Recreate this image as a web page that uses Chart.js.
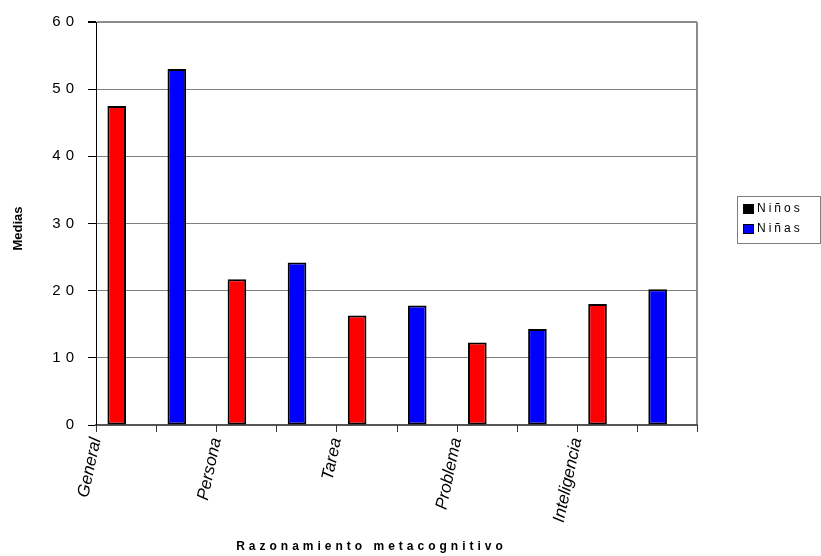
<!DOCTYPE html>
<html>
<head>
<meta charset="utf-8">
<script src="https://cdn.jsdelivr.net/npm/chart.js@4/dist/chart.umd.min.js"></script>
<style>
  html, body { margin: 0; padding: 0; background: #ffffff; }
  #wrap { width: 821px; height: 556px; }
</style>
</head>
<body>
<div id="wrap"><canvas id="c" width="821" height="556"></canvas></div>
<script>
// Mean metacognitive-reasoning scores by dimension, boys vs girls
const categories = ['General', 'Persona', 'Tarea', 'Problema', 'Inteligencia'];
const seriesNames = ['Niños', 'Niñas'];
const ninos = [47.5, 21.7, 16.3, 12.3, 18.0];
const ninas = [53.0, 24.2, 17.8, 14.3, 20.2];
const yTicks = [0, 10, 20, 30, 40, 50, 60];

// Each dimension takes two slots on the axis: one for boys, one for girls
const slotLabels = categories.flatMap(c => [c, '']);
const ninosSlots = categories.flatMap((c, i) => [ninos[i], null]);
const ninasSlots = categories.flatMap((c, i) => [null, ninas[i]]);
const spareSlots = slotLabels.map(() => null);

const FONT = "'Liberation Sans', Arial, sans-serif";

// Letter-spaced text helper (canvas letterSpacing)
function spaced(ctx, sp, fn) {
  const prev = ctx.letterSpacing;
  ctx.letterSpacing = sp;
  fn();
  ctx.letterSpacing = prev === undefined ? '0px' : prev;
}

class SpacedLinearScale extends Chart.LinearScale {
  static id = 'spacedLinear';
  static defaults = Chart.LinearScale.defaults;
  drawLabels(area) { spaced(this.ctx, '5px', () => super.drawLabels(area)); }
  drawTitle() {
    this.ctx.save();
    this.ctx.translate(0, 5);
    spaced(this.ctx, '0px', () => super.drawTitle());
    this.ctx.restore();
  }
}

class SpacedCategoryScale extends Chart.CategoryScale {
  static id = 'spacedCategory';
  static defaults = Chart.CategoryScale.defaults;
  drawLabels(area) { spaced(this.ctx, '0px', () => super.drawLabels(area)); }
  drawTitle() {
    this.ctx.save();
    this.ctx.translate(-25, 0);
    spaced(this.ctx, '4px', () => super.drawTitle());
    this.ctx.restore();
  }
}
Chart.register(SpacedLinearScale, SpacedCategoryScale);

// Tick marks on every slot boundary of the category axis
const slotTicks = {
  id: 'slotTicks',
  afterDraw(chart, args, opts) {
    const xs = chart.scales.x;
    const ctx = chart.ctx;
    const y0 = chart.chartArea.bottom;
    ctx.save();
    ctx.strokeStyle = opts.color;
    ctx.lineWidth = 1;
    ctx.beginPath();
    for (let i = 0; i <= slotLabels.length; i++) {
      const px = Math.round(xs.getPixelForValue(i - 0.5)) + 0.5;
      ctx.moveTo(px, y0);
      ctx.lineTo(px, y0 + opts.length);
    }
    ctx.stroke();
    ctx.restore();
  }
};

// Boxed legend on the right-hand side
const boxLegend = {
  id: 'boxLegend',
  afterDraw(chart, args, opts) {
    const ctx = chart.ctx;
    ctx.save();
    ctx.strokeStyle = '#808080';
    ctx.lineWidth = 1;
    ctx.strokeRect(opts.x + 0.5, opts.y + 0.5, opts.w, opts.h);
    ctx.font = '12px ' + FONT;
    ctx.textBaseline = 'middle';
    seriesNames.forEach((name, i) => {
      const cy = opts.y + opts.rowTop + i * opts.rowGap;
      ctx.fillStyle = opts.colors[i];
      ctx.fillRect(opts.x + 6, cy - 5, 11, 10);
      ctx.strokeStyle = '#000000';
      ctx.strokeRect(opts.x + 6.5, cy - 4.5, 10, 9);
      ctx.fillStyle = '#000000';
      spaced(ctx, '3px', () => ctx.fillText(name, opts.x + 20, cy));
    });
    ctx.restore();
  }
};

new Chart(document.getElementById('c'), {
  type: 'bar',
  data: {
    labels: slotLabels,
    datasets: [
      { label: seriesNames[0], data: ninosSlots, stack: 'a',
        backgroundColor: '#FF0000', borderColor: '#000000', borderWidth: 2, borderSkipped: false },
      { label: seriesNames[1], data: ninasSlots, stack: 'a',
        backgroundColor: '#0000FF', borderColor: '#000000', borderWidth: 2, borderSkipped: false },
      { label: '', data: spareSlots, stack: 'b', backgroundColor: 'rgba(0,0,0,0)' }
    ]
  },
  plugins: [slotTicks, boxLegend],
  options: {
    responsive: false,
    animation: false,
    devicePixelRatio: 1,
    categoryPercentage: 0.62,
    barPercentage: 1.0,
    layout: { padding: { left: 0, right: 124, top: 22, bottom: 0 } },
    plugins: {
      legend: { display: false },
      tooltip: { enabled: false },
      slotTicks: { color: '#333333', length: 7 },
      boxLegend: { x: 737, y: 196, w: 83, h: 47, rowTop: 13, rowGap: 20, colors: ['#000000', '#0000FF'] }
    },
    scales: {
      x: {
        type: 'spacedCategory',
        offset: true,
        afterFit: s => { s.height = 131; },
        grid: {
          offset: true,
          drawOnChartArea: true,
          drawTicks: false,
          color: c => c.type === 'scale' ? '#8c8c8c' : 'rgba(0,0,0,0)',
          lineWidth: c => c.type === 'scale' ? 2 : 1
        },
        border: { color: '#555555', width: 2 },
        ticks: {
          autoSkip: false,
          minRotation: 78,
          maxRotation: 78,
          labelOffset: -30,
          padding: 11,
          color: '#000000',
          font: { family: FONT, size: 17, style: 'italic' }
        },
        title: {
          display: true,
          text: 'Razonamiento metacognitivo',
          color: '#000000',
          font: { family: FONT, size: 12, weight: 'bold' },
          padding: { top: 0, bottom: 2 }
        }
      },
      y: {
        type: 'spacedLinear',
        min: 0,
        max: 60,
        afterFit: s => { s.width = 96; },
        afterBuildTicks: s => { s.ticks = yTicks.map(v => ({ value: v })); },
        grid: {
          color: c => (c.tick && c.tick.value === 60) ? '#8c8c8c' : '#808080',
          lineWidth: c => (c.tick && c.tick.value === 60) ? 2 : 1,
          tickColor: '#000000',
          tickLength: 8
        },
        border: { color: '#000000', width: 1 },
        ticks: {
          padding: 9,
          color: '#000000',
          font: { family: FONT, size: 15 }
        },
        title: {
          display: true,
          text: 'Medias',
          color: '#000000',
          font: { family: FONT, size: 13, weight: 'bold' },
          padding: { top: 11, bottom: 0 }
        }
      }
    }
  }
});
</script>
</body>
</html>
